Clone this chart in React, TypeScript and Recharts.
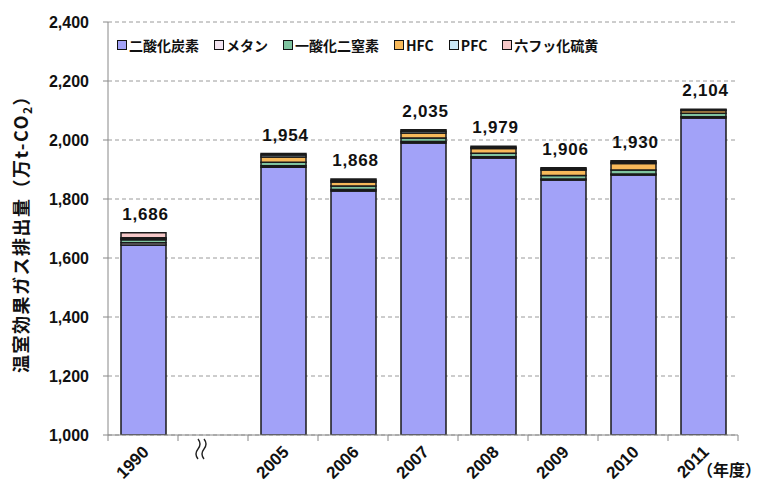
import { Bar, BarChart, CartesianGrid, LabelList, XAxis, YAxis } from "recharts";

// 年度 ('' = 省略区間)
const years = ["1990", "", "2005", "2006", "2007", "2008", "2009", "2010", "2011"];
const co2 = [1644, null, 1908, 1827, 1990, 1939, 1864, 1881, 2075];
const ch4 = [8, null, 5, 5, 5, 4, 4, 4, 4];
const n2o = [10, null, 12, 12, 12, 12, 12, 13, 12];
const hfc = [3, null, 17, 14, 17, 16, 18, 22, 9];
const pfc = [4, null, 7, 5, 6, 4, 4, 5, 2];
const sf6 = [17, null, 5, 5, 5, 4, 4, 5, 2];
const totals = [1686, null, 1954, 1868, 2035, 1979, 1906, 1930, 2104];
const yTicks = [1000, 1200, 1400, 1600, 1800, 2000, 2200, 2400];

const series = [
  { key: "co2", name: "二酸化炭素", color: "#a2a2f8" },
  { key: "ch4", name: "メタン", color: "#f3e4f0" },
  { key: "n2o", name: "一酸化二窒素", color: "#7fc4a0" },
  { key: "hfc", name: "HFC", color: "#f8b95a" },
  { key: "pfc", name: "PFC", color: "#c8e6f5" },
  { key: "sf6", name: "六フッ化硫黄", color: "#f6c8c8" },
];

const data = years.map((year, i) => ({
  year,
  co2: co2[i],
  ch4: ch4[i],
  n2o: n2o[i],
  hfc: hfc[i],
  pfc: pfc[i],
  sf6: sf6[i],
  total: totals[i],
}));

const W = 765;
const H = 486;
const X_AXIS_H = 30;
const M = { top: 22, right: 27, left: 0, bottom: 51 - X_AXIS_H };
const Y_AXIS_W = 108;
const PLOT_W = W - M.left - M.right - Y_AXIS_W;
const PLOT_H = H - 22 - 51;
const STEP = PLOT_W / years.length;
const AXIS_Y = M.top + PLOT_H;
const FONT = "'Liberation Sans', Arial, 'Noto Sans CJK JP', sans-serif";
const JP = "'Noto Sans CJK JP', 'Liberation Sans', sans-serif";

const fmt = (v: number) => v.toLocaleString("en-US");

function XTick(props: any) {
  const { x, payload, index } = props;
  const left = x - STEP / 2;
  return (
    <g>
      <line x1={left} y1={AXIS_Y} x2={left} y2={AXIS_Y + 6} stroke="#888" />
      {index === years.length - 1 && (
        <line x1={x + STEP / 2} y1={AXIS_Y} x2={x + STEP / 2} y2={AXIS_Y + 6} stroke="#888" />
      )}
      {payload.value ? (
        <text
          transform={`translate(${x + 7},${AXIS_Y + 18}) rotate(-45)`}
          textAnchor="end"
          fontSize={17}
          fontWeight="bold"
          fontFamily={FONT}
          fill="#111"
        >
          {payload.value}
        </text>
      ) : (
        <g stroke="#222" strokeWidth={1.4} fill="none">
          <path d={`M${x - 15},${AXIS_Y + 4} q4,5 0,10 q-4,5 0,10`} />
          <path d={`M${x - 9},${AXIS_Y + 4} q4,5 0,10 q-4,5 0,10`} />
        </g>
      )}
    </g>
  );
}

function TotalLabel(props: any) {
  const { x, y, width, value } = props;
  if (value == null) return null;
  return (
    <text
      x={x + width / 2 + 2}
      y={y - 13}
      textAnchor="middle"
      fontSize={17}
      fontWeight="bold"
      fontFamily={FONT}
      letterSpacing={0.8}
      fill="#111"
    >
      {fmt(value)}
    </text>
  );
}

function YLabel() {
  return (
    <text
      transform={`translate(28,${M.top + PLOT_H / 2 + 1}) rotate(-90)`}
      textAnchor="middle"
      fontSize={18}
      fontWeight="bold"
      fontFamily={JP}
      letterSpacing={1.5}
      fill="#111"
    >
      温室効果ガス排出量（万t-CO
      <tspan fontSize={12} dy={4}>2</tspan>
      <tspan dy={-4}>）</tspan>
    </text>
  );
}

function XLabel() {
  return (
    <text x={W - 4} y={H - 10} textAnchor="end" fontSize={16} fontWeight="bold" fontFamily={JP} fill="#111">
      （年度）
    </text>
  );
}

export default function App() {
  return (
    <div style={{ position: "absolute", left: 0, top: 0, width: W, height: H, background: "#fff" }}>
      <BarChart width={W} height={H} data={data} margin={M} barSize={45}>
        <CartesianGrid vertical={false} stroke="#9a9a9a" strokeDasharray="4 3" />
        <XAxis
          dataKey="year"
          height={X_AXIS_H}
          tick={<XTick />}
          tickLine={false}
          axisLine={{ stroke: "#888" }}
          interval={0}
          label={<XLabel />}
        />
        <YAxis
          width={Y_AXIS_W}
          domain={[1000, 2400]}
          ticks={yTicks}
          allowDataOverflow
          tickFormatter={fmt}
          tickSize={5}
          tickMargin={14}
          tickLine={{ stroke: "#888" }}
          axisLine={{ stroke: "#888" }}
          tick={{ fontSize: 16, fontWeight: "bold", fill: "#111", fontFamily: FONT }}
          label={<YLabel />}
        />
        {series.map((s, i) => (
          <Bar
            key={s.key}
            dataKey={s.key}
            name={s.name}
            stackId="a"
            fill={s.color}
            stroke="#1a1a1a"
            strokeWidth={1.5}
            isAnimationActive={false}
          >
            {i === series.length - 1 && <LabelList dataKey="total" content={<TotalLabel />} />}
          </Bar>
        ))}
      </BarChart>
      <div
        style={{
          position: "absolute",
          left: 117,
          top: 36,
          display: "flex",
          gap: 15,
          fontFamily: JP,
          fontWeight: "bold",
          fontSize: 14,
          color: "#111",
          lineHeight: "18px",
        }}
      >
        {series.map((s) => (
          <div key={s.key} style={{ display: "flex", alignItems: "center" }}>
            <span
              style={{
                width: 8,
                height: 8,
                background: s.color,
                border: "1px solid #111",
                marginRight: 2,
                display: "inline-block",
              }}
            />
            {s.name}
          </div>
        ))}
      </div>
    </div>
  );
}
